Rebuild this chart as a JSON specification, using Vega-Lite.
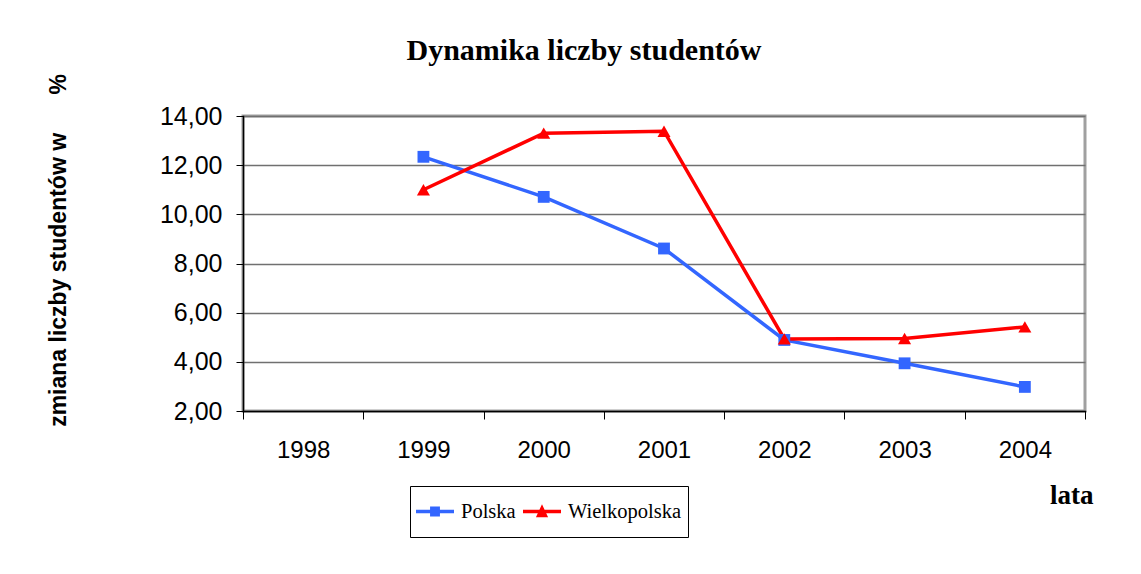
{
  "$schema": "https://vega.github.io/schema/vega-lite/v6.json",
  "width": 842,
  "height": 295,
  "autosize": {"type": "none"},
  "padding": {"left": 243, "top": 116, "right": 56, "bottom": 163},
  "background": "white",
  "title": {
    "text": "Dynamika liczby studentów",
    "font": "Liberation Serif",
    "fontSize": 30,
    "fontWeight": "bold",
    "color": "black",
    "anchor": "middle",
    "frame": "group",
    "dx": -80,
    "dy": 31,
    "offset": 15,
    "baseline": "alphabetic"
  },
  "data": {
    "values": [
      {"year": "1999", "series": "Polska", "value": 12.34},
      {"year": "2000", "series": "Polska", "value": 10.71},
      {"year": "2001", "series": "Polska", "value": 8.61},
      {"year": "2002", "series": "Polska", "value": 4.89},
      {"year": "2003", "series": "Polska", "value": 3.94},
      {"year": "2004", "series": "Polska", "value": 2.98},
      {"year": "1999", "series": "Wielkopolska", "value": 11.0},
      {"year": "2000", "series": "Wielkopolska", "value": 13.3},
      {"year": "2001", "series": "Wielkopolska", "value": 13.38},
      {"year": "2002", "series": "Wielkopolska", "value": 4.93},
      {"year": "2003", "series": "Wielkopolska", "value": 4.95},
      {"year": "2004", "series": "Wielkopolska", "value": 5.42}
    ]
  },
  "encoding": {
    "x": {
      "field": "year",
      "type": "ordinal",
      "scale": {"type": "band", "domain": ["1998", "1999", "2000", "2001", "2002", "2003", "2004"], "paddingInner": 0, "paddingOuter": 0},
      "axis": {
        "title": "lata",
        "titleFont": "Liberation Serif",
        "titleFontSize": 27,
        "titleFontWeight": "bold",
        "titleColor": "black",
        "titleX": 850,
        "titleY": 92,
        "titleAlign": "right",
        "titleBaseline": "alphabetic",
        "labelAngle": 0,
        "labelFont": "Liberation Sans",
        "labelFontSize": 24,
        "labelColor": "black",
        "labelBaseline": "alphabetic",
        "labelPadding": 38,
        "tickBand": "extent",
        "tickSize": 8,
        "tickColor": "black",
        "domainColor": "black",
        "domainWidth": 1.5,
        "grid": false
      }
    },
    "y": {
      "field": "value",
      "type": "quantitative",
      "scale": {"domain": [2, 14], "nice": false, "zero": false},
      "axis": {
        "values": [2, 4, 6, 8, 10, 12, 14],
        "labelExpr": "replace(format(datum.value, '.2f'), '.', ',')",
        "labelFont": "Liberation Sans",
        "labelFontSize": 25,
        "labelColor": "black",
        "labelPadding": 14,
        "tickSize": 7,
        "tickColor": "black",
        "domainColor": "black",
        "domainWidth": 1.5,
        "grid": true,
        "gridColor": "#707070",
        "gridWidth": 1.3,
        "title": "zmiana liczby studentów w\u00a0\u00a0\u00a0\u00a0\u00a0\u00a0%",
        "titleFont": "Liberation Sans",
        "titleFontSize": 23,
        "titleFontWeight": "bold",
        "titleColor": "black",
        "titleAngle": -90,
        "titleX": -178,
        "titleY": 134,
        "titleAlign": "center",
        "titleBaseline": "alphabetic"
      }
    }
  },
  "layer": [
    {
      "transform": [{"filter": "datum.series === 'Polska'"}],
      "mark": {"type": "line", "strokeWidth": 3.5, "color": "#3366ff"}
    },
    {
      "transform": [{"filter": "datum.series === 'Wielkopolska'"}],
      "mark": {"type": "line", "strokeWidth": 3.5, "color": "#ff0000"}
    },
    {
      "transform": [{"filter": "datum.series === 'Polska'"}],
      "mark": {"type": "point", "shape": "square", "filled": true, "size": 140, "color": "#3366ff", "opacity": 1}
    },
    {
      "transform": [{"filter": "datum.series === 'Wielkopolska'"}],
      "mark": {"type": "point", "shape": "triangle-up", "filled": true, "size": 170, "color": "#ff0000", "opacity": 1}
    },
    {
      "transform": [{"filter": "datum.value > 100"}],
      "mark": {"type": "point", "filled": true, "opacity": 1},
      "encoding": {
        "shape": {
          "field": "series",
          "type": "nominal",
          "scale": {
            "domain": ["Polska", "Wielkopolska"],
            "range": [
              "M-1,-0.09H1V0.09H-1ZM-0.26,-0.26H0.26V0.26H-0.26Z",
              "M-1,-0.09H1V0.09H-1ZM0,-0.38L0.32,0.3L-0.32,0.3Z"
            ]
          },
          "legend": {
            "orient": "none",
            "legendX": 167,
            "legendY": 370,
            "direction": "horizontal",
            "title": null,
            "strokeColor": "black",
            "fillColor": "white",
            "padding": 6,
            "clipHeight": 39,
            "symbolSize": 1444,
            "symbolStrokeWidth": 0,
            "labelFont": "Liberation Serif",
            "labelFontSize": 20.5,
            "labelColor": "black",
            "labelOffset": 7,
            "columnPadding": 7,
            "labelLimit": 400
          }
        },
        "color": {
          "field": "series",
          "type": "nominal",
          "scale": {"domain": ["Polska", "Wielkopolska"], "range": ["#3366ff", "#ff0000"]},
          "legend": {
            "orient": "none",
            "legendX": 167,
            "legendY": 370,
            "direction": "horizontal",
            "title": null,
            "strokeColor": "black",
            "fillColor": "white",
            "padding": 6,
            "clipHeight": 39,
            "symbolSize": 1444,
            "symbolStrokeWidth": 0,
            "labelFont": "Liberation Serif",
            "labelFontSize": 20.5,
            "labelColor": "black",
            "labelOffset": 7,
            "columnPadding": 7,
            "labelLimit": 400
          }
        }
      }
    }
  ],
  "config": {
    "view": {"stroke": "#a0a0a0", "strokeWidth": 3},
    "axis": {"domainCap": "square"}
  }
}
